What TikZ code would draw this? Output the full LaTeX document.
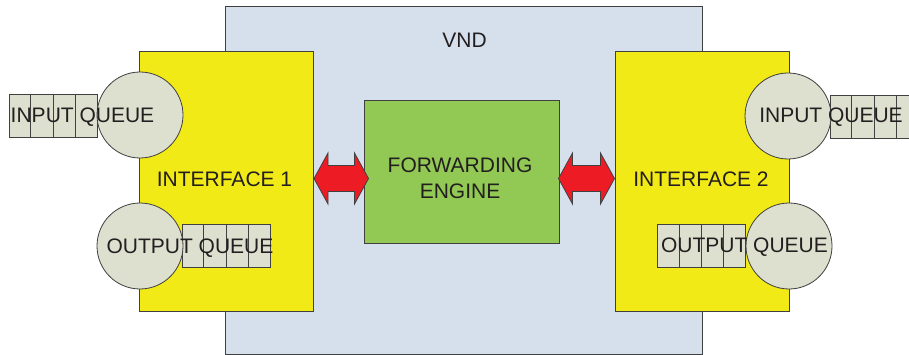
\documentclass[tikz,border=0pt]{standalone}
\usepackage{fontspec}
\setmainfont{Liberation Sans}
\usetikzlibrary{calc}

\definecolor{vndfill}{RGB}{214,224,236}
\definecolor{iffill}{RGB}{242,234,22}
\definecolor{fefill}{RGB}{146,200,84}
\definecolor{qfill}{RGB}{221,224,207}
\definecolor{arrowred}{RGB}{237,28,36}
\definecolor{edge}{RGB}{64,64,64}
\definecolor{ink}{RGB}{35,31,32}

\def\arrhl{14pt}  % head length
\def\arrhh{25.5pt}% head half height
\def\arrsh{13pt}  % shaft half height

\tikzset{
  box/.style={draw=edge, line width=1pt, inner sep=0pt, rectangle},
  vndbox/.style={box, fill=vndfill, minimum width=477, minimum height=347},
  ifbox/.style={box, fill=iffill, minimum width=174, minimum height=259},
  febox/.style={box, fill=fefill, minimum width=195, minimum height=142},
  qcircle/.style={draw=edge, line width=0.8pt, fill=qfill, circle, inner sep=0pt, minimum size=86},
  qbox/.style={draw=edge, line width=0.8pt, fill=qfill, rectangle, inner sep=0pt, minimum width=88, minimum height=43},
  qline/.style={draw=edge, line width=0.8pt},
  lbl/.style={anchor=base, inner sep=0pt, text=ink, font=\fontsize{21}{26}\selectfont},
  dblarrow/.style={draw=edge, line width=0.8pt, fill=arrowred, line join=miter},
}

% a queue of four cells: name, centre
\newcommand{\queuecells}[2]{%
  \node[qbox] (#1) at (#2) {};
  \foreach \k in {1,2,3}{
    \draw[qline] ($(#1.north west)!\k/4!(#1.north east)$) -- ($(#1.south west)!\k/4!(#1.south east)$);
  }%
}

% a two-headed block arrow between two tips (same height)
\newcommand{\blockarrow}[2]{%
  \draw[dblarrow] let \p1=(#1), \p2=(#2) in
    (\x1,\y1) -- (\x1+\arrhl,\y1+\arrhh) -- (\x1+\arrhl,\y1+\arrsh) -- (\x2-\arrhl,\y1+\arrsh)
    -- (\x2-\arrhl,\y1+\arrhh) -- (\x2,\y1) -- (\x2-\arrhl,\y1-\arrhh) -- (\x2-\arrhl,\y1-\arrsh)
    -- (\x1+\arrhl,\y1-\arrsh) -- (\x1+\arrhl,\y1-\arrhh) -- cycle;%
}

\begin{document}
\begin{tikzpicture}[x=1pt, y=-1pt]
  \clip (0,0) rectangle (909,355);
  \fill[white] (0,0) rectangle (909,355);

  % enclosing device
  \node[vndbox] (vnd) at (463.5,180.5) {};
  \node[lbl] (vndlbl) at (464.5,48) {VND};

  % the two interfaces and the forwarding engine
  \node[ifbox] (if1) at (226.5,181.5) {};
  \node[ifbox] (if2) at (702,181.5) {};
  \node[febox] (fe) at (461.5,172) {};

  % queues
  \queuecells{q1}{53,115.5}
  \queuecells{q2}{226,246}
  \queuecells{q3}{874,117}
  \queuecells{q4}{701.5,246}

  \node[qcircle] (c1) at (140,115) {};
  \node[qcircle] (c2) at (140,246) {};
  \node[qcircle] (c3) at (788,116) {};
  \node[qcircle] (c4) at (789,246) {};

  % block arrows between interfaces and engine
  \coordinate (a1l) at (if1.east |- 0,178.5);
  \coordinate (a1r) at ([xshift=5]fe.west |- 0,178.5);
  \coordinate (a2l) at ([xshift=-1]fe.east |- 0,178.5);
  \coordinate (a2r) at (if2.west |- 0,178.5);
  \blockarrow{a1l}{a1r}
  \blockarrow{a2l}{a2r}

  % labels
  \node[lbl] (if1lbl) at (224.5,187) {INTERFACE 1};
  \node[lbl] (if2lbl) at (701,187) {INTERFACE 2};
  \node[lbl] (felbl1) at (460,173) {FORWARDING};
  \node[lbl] (felbl2) at (460,199) {ENGINE};
  \node[lbl] (q1lbl) at (82.5,123) {INPUT QUEUE};
  \node[lbl] (q2lbl) at (190,253) {OUTPUT QUEUE};
  \node[lbl] (q3lbl) at (831,123) {INPUT QUEUE};
  \node[lbl] (q4lbl) at (744.5,252) {OUTPUT QUEUE};
\end{tikzpicture}
\end{document}
